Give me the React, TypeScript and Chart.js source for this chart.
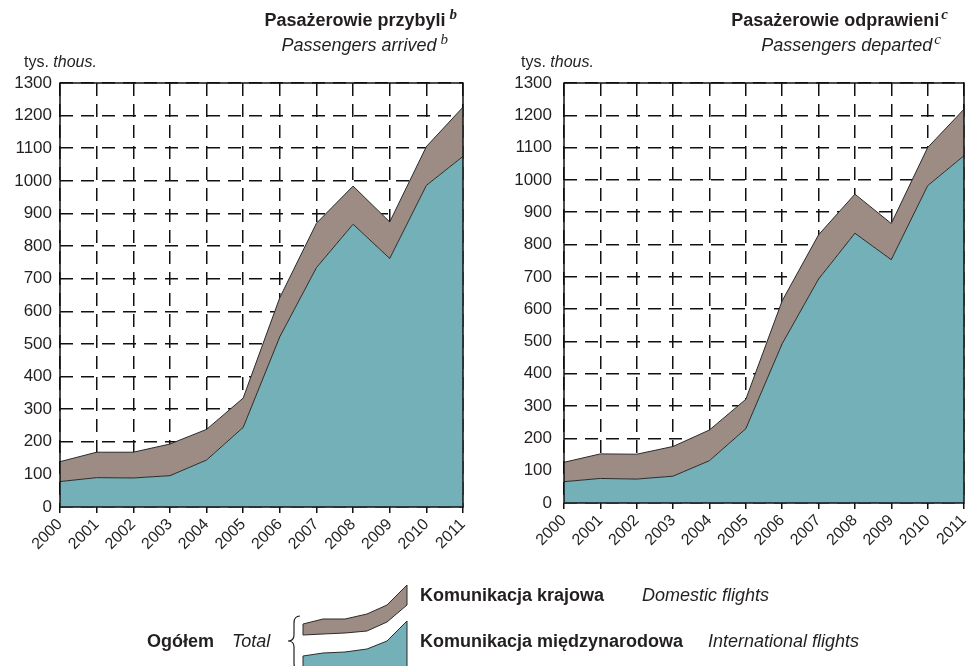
import React, { useEffect, useRef } from "react";
import { Chart, registerables } from "chart.js";

Chart.register(...registerables);

// ---------- data ----------
const years = ["2000", "2001", "2002", "2003", "2004", "2005", "2006", "2007", "2008", "2009", "2010", "2011"];
const arrivedInternational = [78, 90, 89, 96, 144, 244, 522, 734, 867, 762, 986, 1075];
const arrivedDomestic = [61, 78, 79, 97, 94, 90, 120, 136, 117, 112, 119, 151];
const departedInternational = [66, 76, 74, 83, 131, 230, 493, 693, 835, 753, 982, 1075];
const departedDomestic = [60, 76, 77, 92, 95, 91, 133, 137, 121, 112, 118, 144];
const yMin = 0;
const yMax = 1300;
const yStep = 100;

const TEAL = "#74B0B8";
const BROWN = "#9D8C83";
const EDGE = "#2b2b2b";
const INK = "#231F20";
const SANS = "'Liberation Sans', Arial, sans-serif";
const SERIF = "'Liberation Serif', 'Times New Roman', serif";

type Geom = { w: number; h: number; left: number; right: number; top: number; bottom: number; yPad: number };

const frame = {
  id: "frame",
  afterDatasetsDraw(chart: any) {
    const { ctx, chartArea } = chart;
    ctx.save();
    ctx.strokeStyle = "#111";
    ctx.lineWidth = 1.5;
    ctx.strokeRect(chartArea.left, chartArea.top, chartArea.right - chartArea.left, chartArea.bottom - chartArea.top);
    ctx.restore();
  },
};

function makeConfig(intl: number[], dom: number[], g: Geom): any {
  return {
    type: "line",
    data: {
      labels: years,
      datasets: [
        {
          label: "Komunikacja międzynarodowa",
          data: intl,
          fill: "origin",
          backgroundColor: TEAL,
          borderColor: EDGE,
          borderWidth: 1,
          pointRadius: 0,
          tension: 0,
        },
        {
          label: "Komunikacja krajowa",
          data: dom,
          fill: "-1",
          backgroundColor: BROWN,
          borderColor: EDGE,
          borderWidth: 1,
          pointRadius: 0,
          tension: 0,
        },
      ],
    },
    options: {
      animation: false,
      responsive: false,
      maintainAspectRatio: false,
      devicePixelRatio: 1,
      layout: { padding: { top: g.top, right: g.w - g.right, left: 0, bottom: 0 } },
      plugins: { legend: { display: false }, tooltip: { enabled: false }, title: { display: false } },
      scales: {
        x: {
          type: "category",
          offset: false,
          afterFit: (s: any) => {
            s.height = g.h - g.bottom;
          },
          border: { display: false, dash: [13, 8] },
          grid: {
            color: "#111",
            lineWidth: 1.5,
            drawTicks: true,
            tickLength: 6,
            tickColor: "#111",
            tickWidth: 1.5,
            tickBorderDash: [1, 0],
          },
          ticks: {
            autoSkip: false,
            minRotation: 45,
            maxRotation: 45,
            padding: 2,
            color: INK,
            font: { family: SANS, size: 16 },
          },
        },
        y: {
          stacked: true,
          min: yMin,
          max: yMax,
          afterFit: (s: any) => {
            s.width = g.left;
          },
          border: { display: false, dash: [13, 8] },
          grid: { color: "#111", lineWidth: 1.5, drawTicks: false },
          ticks: {
            stepSize: yStep,
            padding: g.yPad,
            color: INK,
            font: { family: SANS, size: 17 },
            callback: (v: any) => String(v),
          },
        },
      },
    },
    plugins: [frame],
  };
}

function AreaChart({ intl, dom, g, x }: { intl: number[]; dom: number[]; g: Geom; x: number }) {
  const ref = useRef<HTMLCanvasElement | null>(null);
  useEffect(() => {
    if (!ref.current) return;
    const chart = new Chart(ref.current, makeConfig(intl, dom, g));
    return () => chart.destroy();
  }, []);
  return (
    <canvas
      ref={ref}
      width={g.w}
      height={g.h}
      style={{ position: "absolute", left: x, top: 0, width: g.w, height: g.h }}
    />
  );
}

const txt = (extra: React.CSSProperties): React.CSSProperties => ({
  position: "absolute",
  fontFamily: SANS,
  fontSize: 18,
  lineHeight: "18px",
  color: INK,
  whiteSpace: "nowrap",
  ...extra,
});

const sup: React.CSSProperties = {
  fontFamily: SERIF,
  fontStyle: "italic",
  fontSize: 15,
  position: "relative",
  top: -7,
};

export default function App() {
  const leftG: Geom = { w: 490, h: 560, left: 60, right: 463, top: 83, bottom: 507, yPad: 8 };
  // right canvas is wider than the visible page so Chart.js label padding does not shrink the plot
  const rightG: Geom = { w: 520, h: 560, left: 74, right: 474, top: 83, bottom: 503, yPad: 12 };
  return (
    <div style={{ position: "absolute", left: 0, top: 0, width: 973, height: 666, overflow: "hidden", background: "#fff" }}>
      <AreaChart intl={arrivedInternational} dom={arrivedDomestic} g={leftG} x={0} />
      <AreaChart intl={departedInternational} dom={departedDomestic} g={rightG} x={490} />

      {/* titles */}
      <div style={txt({ right: 973 - 457, top: 11, fontWeight: "bold", textAlign: "right" })}>
        Pasażerowie przybyli<span style={{ ...sup, marginLeft: 4 }}>b</span>
      </div>
      <div style={txt({ right: 973 - 448, top: 36, fontStyle: "italic", textAlign: "right" })}>
        Passengers arrived<span style={{ ...sup, marginLeft: 4 }}>b</span>
      </div>
      <div style={txt({ left: 24, top: 54, fontSize: 16, lineHeight: "16px" })}>
        tys. <i>thous.</i>
      </div>

      <div style={txt({ right: 973 - 948, top: 11, fontWeight: "bold", textAlign: "right" })}>
        Pasażerowie odprawieni<span style={{ ...sup, marginLeft: 2 }}>c</span>
      </div>
      <div style={txt({ right: 973 - 941, top: 36, fontStyle: "italic", textAlign: "right" })}>
        Passengers departed<span style={{ ...sup, marginLeft: 2 }}>c</span>
      </div>
      <div style={txt({ left: 521, top: 54, fontSize: 16, lineHeight: "16px" })}>
        tys. <i>thous.</i>
      </div>

      {/* legend */}
      <svg width={973} height={666} style={{ position: "absolute", left: 0, top: 0, pointerEvents: "none" }}>
        <polygon
          points="303,624 323,619 345,619 367,614 387,605 407,585 407,605 387,622 367,631 345,633 323,634 303,635"
          fill={BROWN}
          stroke={EDGE}
          strokeWidth={1}
        />
        <polygon
          points="303,656 323,653 345,652 367,649 387,641 407,621 407,672 303,672"
          fill={TEAL}
          stroke={EDGE}
          strokeWidth={1}
        />
        <path
          d="M 300 616 Q 294 616 294 623 L 294 635 Q 294 641 288 641 Q 294 641 294 647 L 294 663 Q 294 670 300 670"
          fill="none"
          stroke={INK}
          strokeWidth={1.2}
        />
      </svg>
      <div style={txt({ left: 147, top: 632, fontWeight: "bold" })}>Ogółem</div>
      <div style={txt({ left: 232, top: 632, fontStyle: "italic" })}>Total</div>
      <div style={txt({ left: 420, top: 586, fontWeight: "bold" })}>Komunikacja krajowa</div>
      <div style={txt({ left: 642, top: 586, fontStyle: "italic" })}>Domestic flights</div>
      <div style={txt({ left: 420, top: 632, fontWeight: "bold" })}>Komunikacja międzynarodowa</div>
      <div style={txt({ left: 708, top: 632, fontStyle: "italic" })}>International flights</div>
    </div>
  );
}
